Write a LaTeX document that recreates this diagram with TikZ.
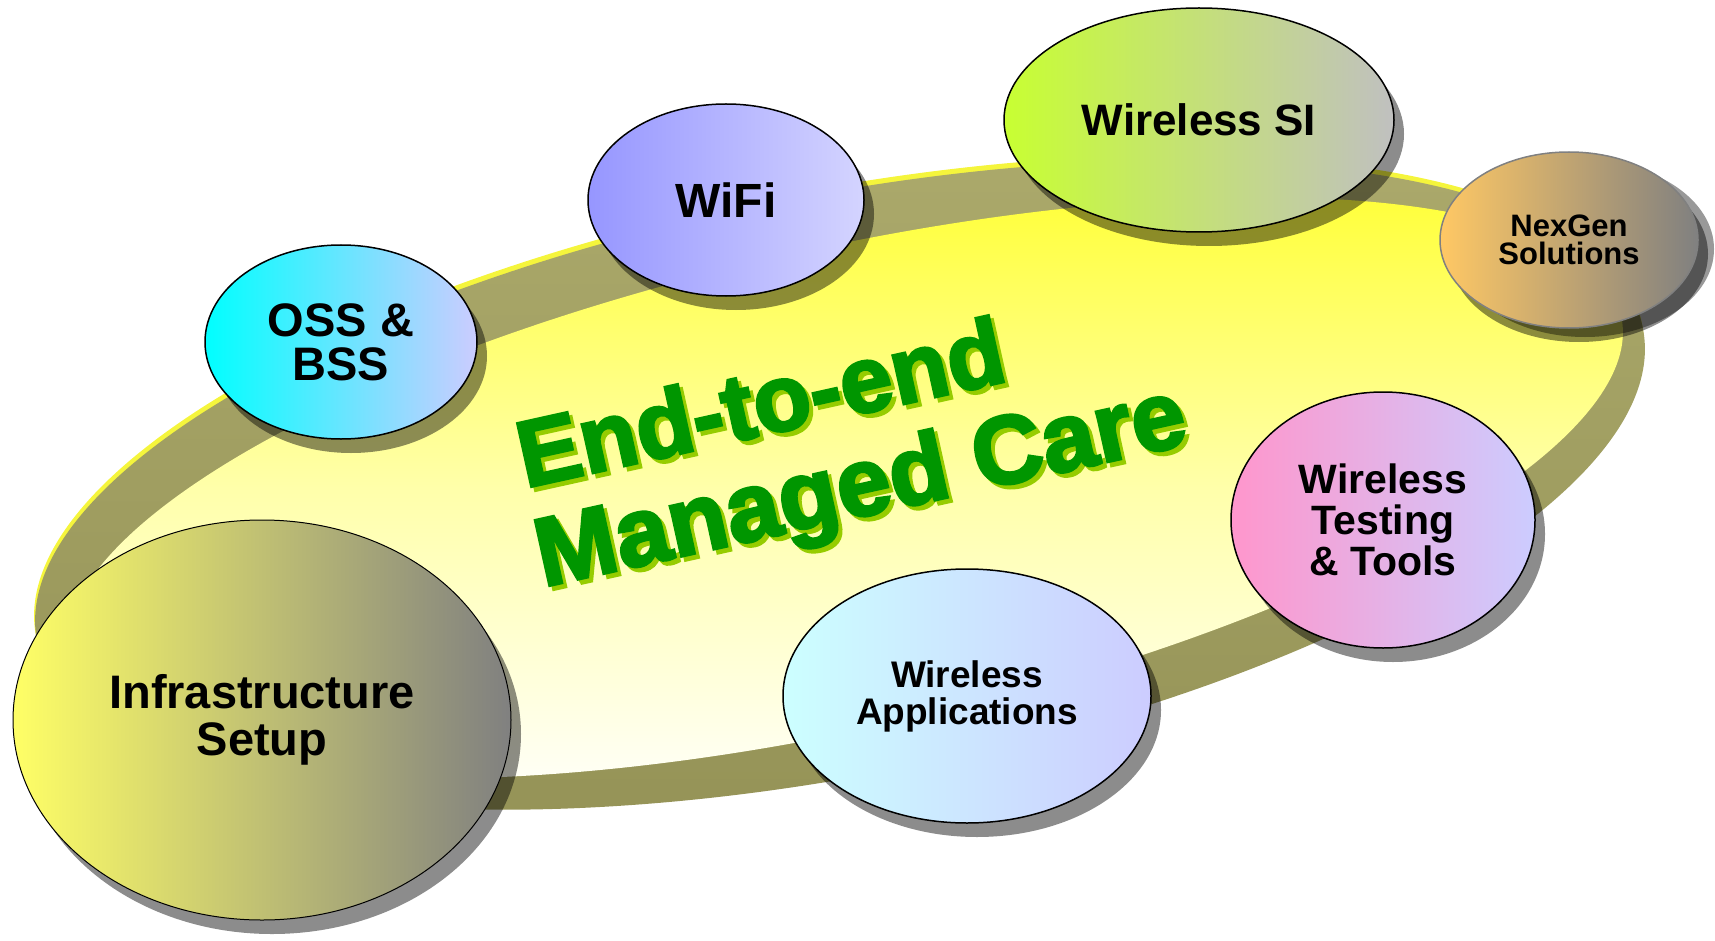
\documentclass[tikz,border=0pt]{standalone}
\usepackage{fontspec}
\setmainfont{Liberation Sans}
\newfontfamily\titlefont{Liberation Sans}[BoldFeatures={FakeBold=3}]
\usetikzlibrary{shapes.geometric,shadows}
\tikzset{every picture/.style={line width=0.75pt}}

\definecolor{rimolive}{RGB}{148,146,86}
\definecolor{rimlight}{RGB}{172,170,108}
\definecolor{rimedge}{RGB}{245,245,60}
\definecolor{disktop}{RGB}{255,255,45}
\definecolor{diskmid}{RGB}{255,255,170}
\definecolor{titlegreen}{RGB}{0,150,0}
\definecolor{titleshade}{RGB}{150,204,0}

\tikzset{
  bubble/.style={ellipse, draw=black, line width=1.5pt, inner sep=0pt, align=center,
    drop shadow={shadow xshift=10pt, shadow yshift=-14pt, fill=black, opacity=0.45}},
  plate/.style={ellipse, inner sep=0pt},
  titleline/.style={anchor=base west, rotate=12.5, inner sep=0pt,
    font={\titlefont\bfseries\fontsize{94}{94}\selectfont}},
}

\begin{document}
\begin{tikzpicture}[x=1pt,y=1pt,yscale=-1,xscale=1]
	\useasboundingbox (0,0) rectangle (1715,941);
	
	% the big tilted disk: light edge, olive rim, shaded top
	\node[plate, minimum width=1636, minimum height=580, rotate=11, fill=rimedge] (rimhi) at (839,480) {};
	\node[plate, minimum width=1636, minimum height=580, rotate=11, top color=rimlight, bottom color=rimolive] (rim) at (840,485) {};
	\node[plate, minimum width=1590, minimum height=480, rotate=12.5, top color=disktop, bottom color=white, middle color=diskmid] (disk) at (845,488) {};
	
	% title on the disk
	\node[titleline, text=titleshade] (titleAs) at (529,492) {End-to-end};
	\node[titleline, text=titlegreen] (titleA) at (525,488) {End-to-end};
	\node[titleline, text=titleshade, font={\titlefont\bfseries\fontsize{97}{97}\selectfont}] (titleBs) at (547,591) {Managed Care};
	\node[titleline, text=titlegreen, font={\titlefont\bfseries\fontsize{97}{97}\selectfont}] (titleB) at (543,587) {Managed Care};
	
	% service bubbles round the rim
	\node[bubble, minimum width=272, minimum height=194, left color={rgb,255:red,0;green,255;blue,255}, right color={rgb,255:red,204;green,204;blue,255},
		font={\bfseries\fontsize{47}{44}\selectfont}] (oss) at (341,342) {OSS \&\\BSS};
	\node[bubble, minimum width=276, minimum height=192, left color={rgb,255:red,150;green,150;blue,255}, right color={rgb,255:red,212;green,212;blue,255},
		font={\bfseries\fontsize{48}{48}\selectfont}] (wifi) at (726,200) {WiFi};
	\node[bubble, minimum width=390, minimum height=224, left color={rgb,255:red,200;green,255;blue,50}, right color={rgb,255:red,192;green,192;blue,192},
		font={\bfseries\fontsize{44}{44}\selectfont}] (wsi) at (1199,120) {Wireless SI};
	\node[bubble, draw={rgb,255:red,128;green,128;blue,128}, minimum width=258, minimum height=176,
		drop shadow={shadow xshift=16pt, shadow yshift=-9pt, fill=black, opacity=0.4},
		left color={rgb,255:red,255;green,200;blue,100}, right color={rgb,255:red,128;green,128;blue,128},
		font={\bfseries\fontsize{31}{28}\selectfont}] (nexgen) at (1569,240) {NexGen\\Solutions};
	\node[bubble, minimum width=304, minimum height=256, left color={rgb,255:red,255;green,150;blue,204}, right color={rgb,255:red,204;green,204;blue,255},
		font={\bfseries\fontsize{41}{41}\selectfont}] (wtt) at (1383,520) {Wireless\\Testing\\\& Tools};
	\node[bubble, minimum width=368, minimum height=254, left color={rgb,255:red,204;green,255;blue,255}, right color={rgb,255:red,204;green,204;blue,255},
		font={\bfseries\fontsize{37}{37}\selectfont}] (wapp) at (967,696) {Wireless\\Applications};
	\node[bubble, line width=1pt, minimum width=498, minimum height=400, left color={rgb,255:red,255;green,255;blue,102}, right color={rgb,255:red,128;green,128;blue,128},
		font={\bfseries\fontsize{47}{47}\selectfont}] (infra) at (262,720) {Infrastructure\\Setup};
	
\end{tikzpicture}
\end{document}
